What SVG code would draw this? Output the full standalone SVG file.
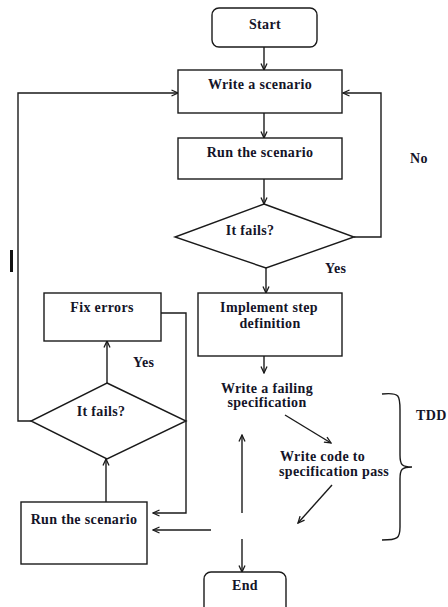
<svg xmlns="http://www.w3.org/2000/svg" width="448" height="607" viewBox="0 0 448 607">
<defs>
<marker id="ah" markerWidth="8" markerHeight="8" refX="7" refY="4" orient="auto" markerUnits="userSpaceOnUse">
<path d="M0.5,1 L7,4 L0.5,7" fill="none" stroke="#1a1a1a" stroke-width="1.3"/>
</marker>
</defs>
<style>
.box{fill:#fff;stroke:#1a1a1a;stroke-width:1.4}
.ln{fill:none;stroke:#1a1a1a;stroke-width:1.4}
.arr{fill:none;stroke:#1a1a1a;stroke-width:1.4;marker-end:url(#ah)}
.t{font-family:"Liberation Serif","DejaVu Serif",serif;font-weight:bold;font-size:14px;letter-spacing:0.35px;fill:#141428;text-anchor:middle}
.tl{font-family:"Liberation Serif","DejaVu Serif",serif;font-weight:bold;font-size:14px;letter-spacing:0.35px;fill:#141428}
</style>
<rect width="448" height="607" fill="#fff"/>
<rect x="10" y="250" width="3" height="22" fill="#111"/>
<g id="connectors">
<path class="arr" d="M264,47 V70"/>
<path class="arr" d="M264,113 V138"/>
<path class="arr" d="M264,179 V204"/>
<path class="arr" d="M266,268 V293"/>
<path class="arr" d="M264,349 V373"/>
<path class="arr" d="M354,237 H381 V93 H343"/>
<path class="arr" d="M31,421 H18 V93 H178"/>
<path class="arr" d="M161,313 H186 V513 H153"/>
<path class="arr" d="M107,383 V341"/>
<path class="arr" d="M106,502 V459"/>
<path class="arr" d="M285,415 L331,443"/>
<path class="arr" d="M332,485 L298,523"/>
<path class="arr" d="M242,513 V435"/>
<path class="arr" d="M211,530 H153"/>
<path class="arr" d="M242,539 V572"/>
<path class="ln" d="M382,394 C400,392 400,396 400,410 V455 C400,465 402,467 412,467 C402,467 400,469 400,479 V527 C400,538 398,540 382,540"/>
</g>
<g id="start">
<rect class="box" x="212" y="8" width="105" height="39" rx="7"/>
<text class="t" x="265" y="29">Start</text>
</g>
<g id="write-scenario">
<rect class="box" x="178" y="70" width="164" height="43"/>
<text class="t" x="260" y="89">Write a scenario</text>
</g>
<g id="run-scenario-1">
<rect class="box" x="178" y="138" width="164" height="41"/>
<text class="t" x="260" y="157">Run the scenario</text>
</g>
<g id="decision-1">
<polygon class="box" points="264,204 354,237 266,268 175,237"/>
<text class="t" x="250" y="235">It fails?</text>
</g>
<g id="label-no"><text class="tl" x="410" y="163">No</text></g>
<g id="label-yes-1"><text class="tl" x="325" y="273">Yes</text></g>
<g id="implement">
<rect class="box" x="198" y="293" width="144" height="63"/>
<text class="t" x="269" y="312">Implement step</text>
<text class="t" x="270" y="328">definition</text>
</g>
<g id="write-failing-spec">
<text class="t" x="267" y="393">Write a failing</text>
<text class="t" x="267" y="407">specification</text>
</g>
<g id="write-code">
<text class="tl" x="280" y="461">Write code to</text>
<text class="tl" x="279" y="476">specification pass</text>
</g>
<g id="tdd"><text class="tl" x="416" y="420">TDD</text></g>
<g id="fix-errors">
<rect class="box" x="44" y="293" width="117" height="48"/>
<text class="t" x="102" y="312">Fix errors</text>
</g>
<g id="label-yes-2"><text class="tl" x="133" y="367">Yes</text></g>
<g id="decision-2">
<polygon class="box" points="107,383 186,421 107,459 31,421"/>
<text class="t" x="101" y="416">It fails?</text>
</g>
<g id="run-scenario-2">
<rect class="box" x="21" y="502" width="126" height="62"/>
<text class="t" x="84" y="524">Run the scenario</text>
</g>
<g id="end">
<rect class="box" x="204" y="572" width="82" height="45" rx="7"/>
<text class="t" x="245" y="590">End</text>
</g>
</svg>
